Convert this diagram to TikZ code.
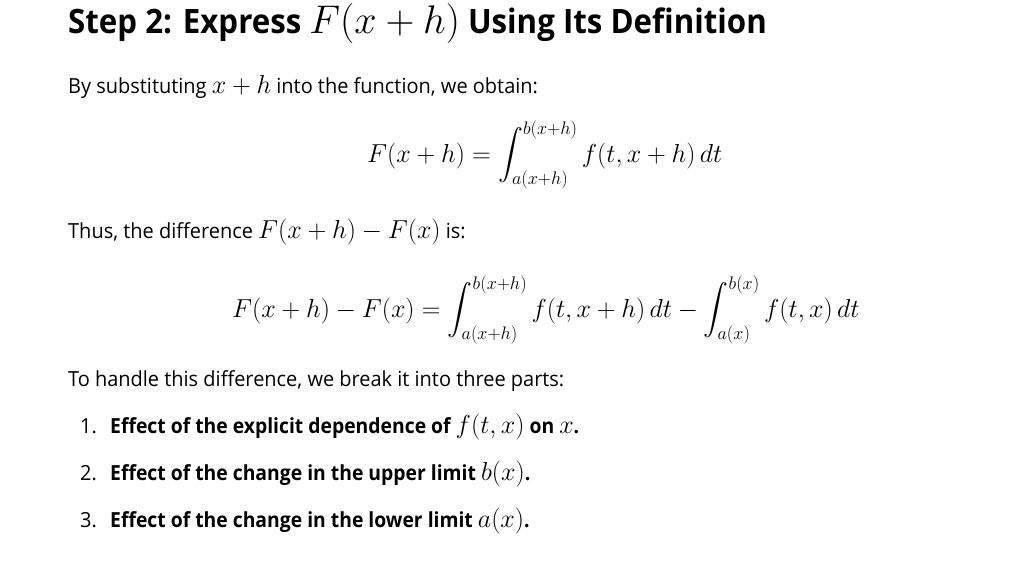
\RequirePackage{fix-cm}
\documentclass[tikz,border=0pt]{standalone}
\usepackage{amsmath}
\usepackage[no-math]{fontspec}
\setmainfont{Open Sans}[Scale=0.80, FakeStretch=0.96, BoldFeatures={FakeStretch=0.93}]
\usepackage{tikz}

\tikzset{
  txt/.style={anchor=base west, inner sep=0pt, font=\fontsize{26}{31}\selectfont},
  heading/.style={anchor=base west, inner sep=0pt, font=\fontsize{42}{50}\selectfont\bfseries},
  itemtxt/.style={txt, font=\fontsize{26}{31}\selectfont\bfseries},
}

\begin{document}
\begin{tikzpicture}[x=1pt, y=-1pt]
 \useasboundingbox[fill=white] (0,0) rectangle (1022,570);
 % heading
 \node[heading] (title) at (68,33)
  {Step 2: Express {\fontsize{40}{48}\selectfont$F(x+h)$} Using Its Definition};
 % first line and first display
 \node[txt] (intro) at (68,93) {By substituting $x+h$ into the function, we obtain:};
 \node[txt] (eqone) at (367,162)
  {$\displaystyle F(x+h) = \int_{a(x+h)}^{b(x+h)} f(t,x+h)\,dt$};
 % difference
 \node[txt] (thus) at (68,238) {Thus, the difference $F(x+h)-F(x)$ is:};
 \node[txt] (eqtwo) at (232,317)
  {$\displaystyle F(x+h)-F(x) = \int_{a(x+h)}^{b(x+h)} f(t,x+h)\,dt
   - \int_{a(x)}^{b(x)} f(t,x)\,dt$};
 \node[txt] (parts) at (68,386) {To handle this difference, we break it into three parts:};
 % the three parts
 \foreach \n/\y/\t in {
    1/433/{Effect of the explicit dependence of $f(t,x)$ on $x$.},
    2/480/{Effect of the change in the upper limit $b(x)$.},
    3/527/{Effect of the change in the lower limit $a(x)$.}
  }
  {
    \node[txt] (num\n) at (80,\y) {\n.};
    \node[itemtxt] (part\n) at (110,\y) {\t};
  }
\end{tikzpicture}
\end{document}
